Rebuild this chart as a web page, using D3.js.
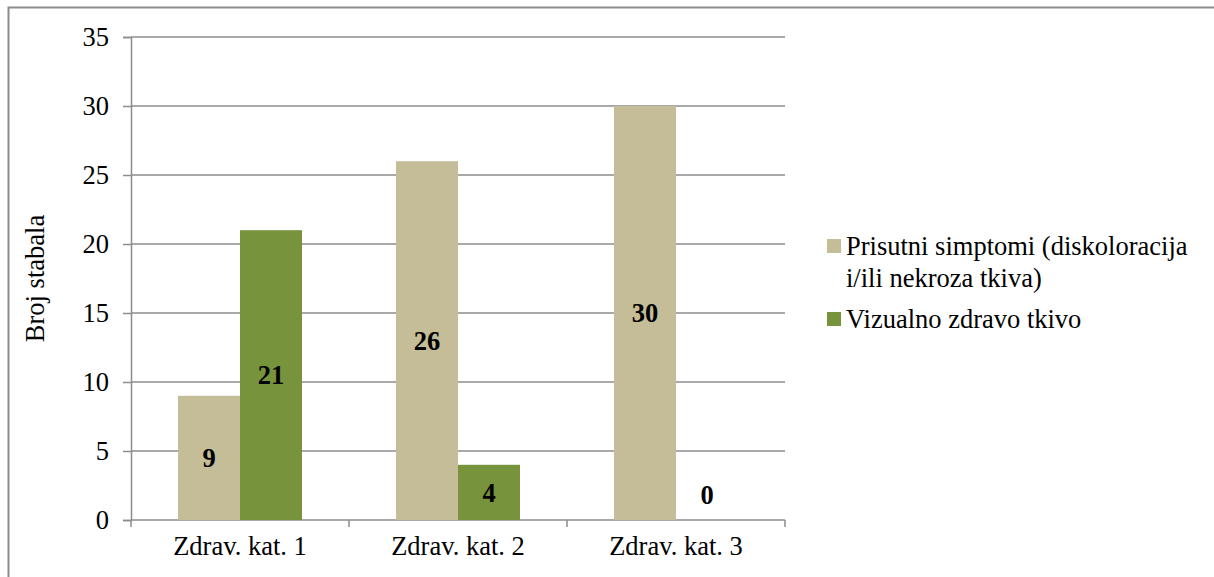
<!DOCTYPE html>
<html><head><meta charset="utf-8">
<script src="https://cdn.jsdelivr.net/npm/d3@7"></script>
<style>body{margin:0;background:#fff}svg{display:block} svg text{font-family:"Liberation Serif","Times New Roman",serif;}</style>
</head><body>
<svg id="c" width="1214" height="577"></svg>
<script>
const categories = ["Zdrav. kat. 1", "Zdrav. kat. 2", "Zdrav. kat. 3"];
const seriesNames = ["Prisutni simptomi (diskoloracija i/ili nekroza tkiva)", "Vizualno zdravo tkivo"];
const symptoms = [9, 26, 30];
const healthy = [21, 4, 0];
const yTicks = [0, 5, 10, 15, 20, 25, 30, 35];
const colors = ["#c4bd97", "#77933c"];

(function(){
const svg = d3.select("#c");
const FS = "26.5px";
svg.append("path").attr("d","M8.5,577 V7.5 H1214").attr("fill","none").attr("stroke","#8c8c8c").attr("stroke-width",2);

const pL=131, pR=785, pT=37, pB=520;
const x = d3.scaleBand().domain(categories).range([pL,pR]).padding(0);
const y = d3.scaleLinear().domain([0,35]).range([pB,pT]);

svg.append("g").selectAll("line").data(yTicks.filter(d=>d>0)).join("line")
  .attr("x1",pL).attr("x2",pR).attr("y1",d=>y(d)).attr("y2",d=>y(d))
  .attr("stroke","#8c8c8c").attr("stroke-width",1.5);

const yAxis = svg.append("g").attr("transform",`translate(${pL},0)`)
  .call(d3.axisLeft(y).tickValues(yTicks).tickSize(8).tickPadding(14).tickFormat(d3.format("d")));
yAxis.attr("font-family",null).attr("font-size",null);
yAxis.select(".domain").attr("stroke","#8c8c8c").attr("stroke-width",1.5);
yAxis.selectAll(".tick line").attr("stroke","#8c8c8c").attr("stroke-width",1.5);
yAxis.selectAll("text").style("font-size",FS).attr("fill","#000");

const xAxis = svg.append("g").attr("transform",`translate(0,${pB})`)
  .call(d3.axisBottom(x).tickSize(0).tickPadding(16));
xAxis.attr("font-family",null).attr("font-size",null);
xAxis.select(".domain").remove();
xAxis.selectAll("text").style("font-size",FS).attr("fill","#000");
svg.append("line").attr("x1",pL).attr("x2",pR).attr("y1",pB).attr("y2",pB).attr("stroke","#8c8c8c").attr("stroke-width",1.5);
const bounds = [pL, ...categories.map(c=>x(c)+x.bandwidth())];
svg.append("g").selectAll("line").data(bounds).join("line")
  .attr("x1",d=>d).attr("x2",d=>d).attr("y1",pB).attr("y2",pB+7).attr("stroke","#8c8c8c").attr("stroke-width",1.5);

const series = [symptoms, healthy];
const bw = 62;
series.forEach((vals,si)=>{
  const g = svg.append("g");
  g.selectAll("rect").data(vals).join("rect")
    .attr("x",(d,i)=>x(categories[i])+x.bandwidth()/2 - bw + si*bw)
    .attr("width",bw)
    .attr("y",d=>y(d)).attr("height",d=>pB-y(d)).attr("fill",colors[si]);
  g.selectAll("text").data(vals).join("text")
    .attr("x",(d,i)=>x(categories[i])+x.bandwidth()/2 - bw/2 + si*bw)
    .attr("y",d=> d===0 ? pB-25 : (y(d)+pB)/2)
    .attr("dy","0.35em").attr("text-anchor","middle")
    .style("font-size",FS).attr("font-weight","bold").attr("fill","#000")
    .text(d=>d);
});

svg.append("text").attr("transform",`translate(44,${(pT+pB)/2}) rotate(-90)`)
  .attr("text-anchor","middle").style("font-size",FS).attr("fill","#000").text("Broj stabala");

const lg = svg.append("g");
const legendLines = [["Prisutni simptomi (diskoloracija","i/ili nekroza tkiva)"],["Vizualno zdravo tkivo"]];
const ly = [246, 319];
legendLines.forEach((lines,i)=>{
  lg.append("rect").attr("x",827).attr("y",ly[i]-7).attr("width",14).attr("height",14).attr("fill",colors[i]);
  lines.forEach((t,j)=>{
    lg.append("text").attr("x",846).attr("y",ly[i]+j*32).attr("dy","0.35em")
      .style("font-size",FS).attr("fill","#000").text(t);
  });
});
})();
</script>
</body></html>
